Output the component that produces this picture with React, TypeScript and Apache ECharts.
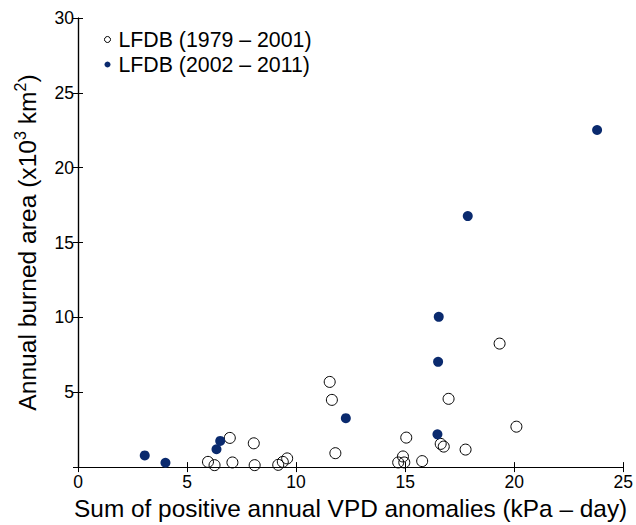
import React, { useEffect, useRef } from "react";
import * as echarts from "echarts";

const early: [number, number][] = [
  [5.96, 0.35], [6.26, 0.13], [6.96, 1.95], [7.08, 0.31], [8.06, 1.59], [8.1, 0.13],
  [9.18, 0.15], [9.39, 0.35], [9.59, 0.58], [11.54, 5.69], [11.64, 4.49], [11.8, 0.93],
  [14.68, 0.31], [14.9, 0.71], [14.96, 0.31], [15.05, 1.97], [15.78, 0.4], [16.63, 1.55],
  [16.77, 1.37], [16.99, 4.56], [17.77, 1.17], [19.33, 8.25], [20.1, 2.7],
];
const recent: [number, number][] = [
  [3.06, 0.78], [4.01, 0.29], [6.35, 1.19], [6.52, 1.75], [12.28, 3.27],
  [16.48, 2.19], [16.51, 7.03], [16.54, 10.04], [17.87, 16.77], [23.8, 22.52],
];
const legendNames = ["LFDB (1979 – 2001)", "LFDB (2002 – 2011)"];
const navy = "#0a2a6e";
const font = "Liberation Sans, Arial, Helvetica, sans-serif";

export default function App() {
  const ref = useRef<HTMLDivElement>(null);
  useEffect(() => {
    if (!ref.current) return;
    const chart = echarts.init(ref.current, undefined, { renderer: "svg" });
    const axisCommon = {
      axisLine: { show: true, lineStyle: { color: "#000", width: 1.2 } },
      axisTick: { show: true, inside: true, length: 5, lineStyle: { color: "#000" } },
      splitLine: { show: false },
    };
    chart.setOption({
      animation: false,
      textStyle: { fontFamily: font },
      grid: { left: 78, right: 10, top: 18, bottom: 55 },
      legend: {
        orient: "vertical",
        left: 99,
        top: 24,
        itemWidth: 6,
        itemHeight: 6,
        itemGap: 4,
        textStyle: { fontSize: 21.3, color: "#000", fontFamily: font, padding: [0, 0, 0, 3] },
        data: [
          { name: legendNames[0], icon: "circle", itemStyle: { color: "#fff", borderColor: "#000", borderWidth: 1, opacity: 1 } },
          { name: legendNames[1], icon: "circle", itemStyle: { color: navy, borderWidth: 0, opacity: 1 } },
        ],
      },
      xAxis: [
        {
          type: "value", min: 0, max: 25, interval: 5, position: "bottom",
          ...axisCommon,
          axisLabel: { fontSize: 17.5, color: "#000", margin: 6, fontFamily: font },
          name: "Sum of positive annual VPD anomalies (kPa – day)",
          nameLocation: "middle",
          nameGap: 26,
          nameTextStyle: { fontSize: 24.4, color: "#000", fontFamily: font },
        },
        {
          type: "value", min: 0, max: 25, interval: 5, position: "top",
          ...axisCommon,
          axisLabel: { show: false },
        },
      ],
      yAxis: [
        {
          type: "value", min: 0, max: 30, interval: 5, position: "left",
          ...axisCommon,
          axisLabel: {
            fontSize: 17.5, color: "#000", margin: 4, fontFamily: font,
            formatter: (v: number) => (v === 0 ? "" : String(v)),
          },
          name: "Annual burned area (x10{sup|3} km{sup|2})",
          nameLocation: "middle",
          nameRotate: 90,
          nameGap: 36,
          nameTextStyle: {
            fontSize: 24.6, color: "#000", fontFamily: font,
            rich: { sup: { fontSize: 16, verticalAlign: "top", padding: [0, 0, 14, 0], fontFamily: font, color: "#000" } },
          },
        },
        {
          type: "value", min: 0, max: 30, interval: 5, position: "right",
          ...axisCommon,
          axisLabel: { show: false },
        },
      ],
      series: [
        {
          name: legendNames[0],
          type: "scatter",
          data: early,
          symbol: "circle",
          symbolSize: 11,
          itemStyle: { color: "rgba(255,255,255,0)", borderColor: "#000", borderWidth: 1, opacity: 1 },
        },
        {
          name: legendNames[1],
          type: "scatter",
          data: recent,
          symbol: "circle",
          symbolSize: 10,
          itemStyle: { color: navy, borderWidth: 0, opacity: 1 },
        },
      ],
    });
    return () => chart.dispose();
  }, []);
  return <div ref={ref} style={{ width: 636, height: 525, position: "absolute", left: 0, top: 0 }} />;
}
